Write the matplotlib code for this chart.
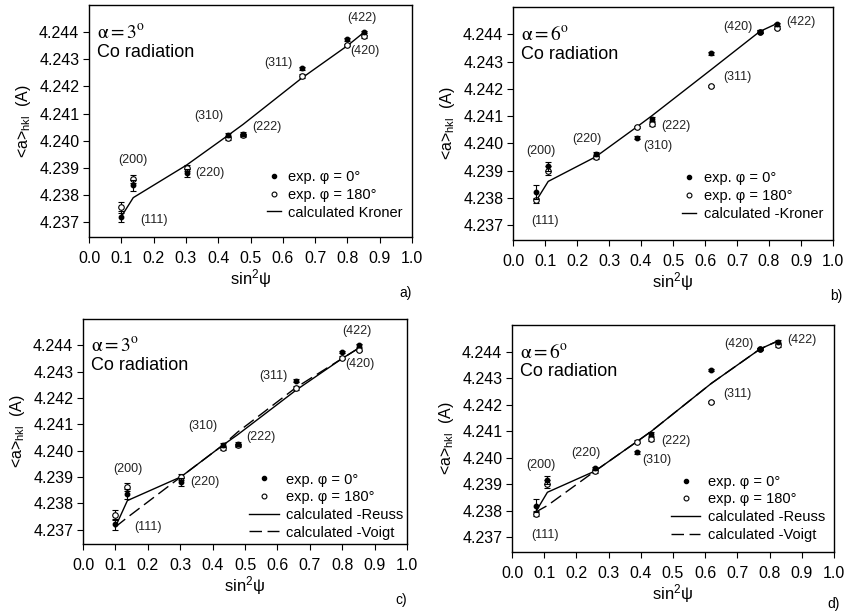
import matplotlib
matplotlib.use("Agg")
import matplotlib.pyplot as plt
from matplotlib.lines import Line2D

plt.rcParams['font.family'] = ['Liberation Sans', 'DejaVu Sans']
plt.rcParams['mathtext.fontset'] = 'custom'
plt.rcParams['mathtext.rm'] = 'Liberation Sans'
plt.rcParams['mathtext.it'] = 'Liberation Sans:italic'

# reflections
hkl = ['(111)', '(200)', '(220)', '(310)', '(222)', '(311)', '(420)', '(422)']

# alpha = 3 deg
s2psi_3 = [0.100, 0.137, 0.302, 0.431, 0.477, 0.658, 0.800, 0.852]
a0_3 = [4.2372, 4.23835, 4.2388, 4.2402, 4.24025, 4.24266, 4.24374, 4.2440]
a180_3 = [4.23755, 4.2386, 4.2390, 4.2401, 4.2402, 4.24238, 4.24353, 4.24384]
err0_3 = [0.0002, 0.0002, 0.00015, 0.00007, 0.00006, 0.00006, 0.00005, 0.00005]
err180_3 = [0.0002, 0.00015, 0.0001, 0.00007, 0.00006, 0.00006, 0.00005, 0.00005]
kroner_3 = [4.2372, 4.2379, 4.2391, 4.2402, 4.2406, 4.2423, 4.2435, 4.2440]
reuss_3 = [4.2371, 4.2381, 4.2390, 4.2402, 4.2406, 4.2423, 4.2435, 4.2439]
voigt_3 = [4.2371, 4.23746, 4.2390, 4.2402, 4.2407, 4.2424, 4.2435, 4.2439]

# alpha = 6 deg
s2psi_6 = [0.073, 0.110, 0.258, 0.387, 0.433, 0.619, 0.771, 0.826]
a0_6 = [4.2382, 4.23915, 4.2396, 4.2402, 4.2409, 4.2433, 4.2441, 4.24437]
a180_6 = [4.2379, 4.2390, 4.2395, 4.2406, 4.2407, 4.2421, 4.2441, 4.24424]
err0_6 = [0.00025, 0.00015, 0.00007, 0.00006, 0.00007, 0.00005, 0.00005, 0.00005]
err180_6 = [0.0001, 0.00015, 0.00007, 0.00005, 0.00007, 0.00005, 0.00005, 0.00005]
kroner_6 = [4.2379, 4.2386, 4.2395, 4.2406, 4.2410, 4.2427, 4.2441, 4.2444]
reuss_6 = [4.23795, 4.2387, 4.2395, 4.2406, 4.2410, 4.2428, 4.2441, 4.2444]
voigt_6 = [4.23795, 4.2382, 4.2395, 4.2406, 4.2410, 4.2428, 4.2441, 4.2444]

# label offsets (pixels) and alignment
offs_3 = [(19, -3, 'left'), (0, 25, 'center'), (9, 0, 'left'), (-5, 19, 'right'),
          (9, 7, 'left'), (-9, 5, 'right'), (3, -12, 'left'), (-2, 14, 'center')]
offs_6 = [(9, -29, 'center'), (-7, 15, 'center'), (-9, 15, 'center'), (6, -8, 'left'),
          (10, -7, 'left'), (12, -24, 'left'), (-7, 5, 'right'), (9, 2, 'left')]

W, H = 846, 614
fig = plt.figure(figsize=(W / 100, H / 100), dpi=100)


def ax_at(l, t, r, b):
    return fig.add_axes([l / W, 1 - b / H, (r - l) / W, (b - t) / H])


def panel(ax, x, y0, y180, e0, e180, offs, alpha, calcs, letter, lx, ly, leg_anchor, hlen):
    ax.set_xlim(0, 1.0)
    ax.set_ylim(4.23645, 4.2450)
    ax.set_xticks([i / 10 for i in range(11)])
    ax.set_xticklabels(['%.1f' % (i / 10) for i in range(11)])
    yt = [4.237 + i * 0.001 for i in range(8)]
    ax.set_yticks(yt)
    ax.set_yticklabels(['%.3f' % v for v in yt])
    ax.tick_params(direction='out', length=4, width=0.8, labelsize=11.5, pad=3)
    ax.tick_params(axis='x', pad=6)
    for sp in ax.spines.values():
        sp.set_linewidth(1.0)

    handles = [Line2D([], [], ls='none', marker='o', ms=3, mfc='k', mec='k'),
               Line2D([], [], ls='none', marker='o', ms=3.5, mfc='white', mec='k', mew=0.8)]
    labels = ['exp. φ = 0°', 'exp. φ = 180°']
    for name, yc, ls in calcs:
        ax.plot(x, yc, color='k', lw=1.0, ls=ls)
        handles.append(Line2D([], [], color='k', lw=1.0, ls=ls))
        labels.append(name)

    ax.errorbar(x, y180, yerr=e180, fmt='o', ms=4, mfc='white', mec='k', mew=0.8,
                ecolor='k', elinewidth=0.8, capsize=2, capthick=0.8, zorder=3)
    ax.errorbar(x, y0, yerr=e0, fmt='o', ms=3.2, mfc='k', mec='k',
                ecolor='k', elinewidth=0.8, capsize=2, capthick=0.8, zorder=4)

    for lab, xi, yi, (dx, dy, ha) in zip(hkl, x, y0, offs):
        ax.annotate(lab, (xi, yi), xytext=(dx, dy), textcoords='offset pixels',
                    ha=ha, va='center', fontsize=9, color='#222222')

    ax.text(0.025, 0.88, r'$\mathrm{\alpha} = %d^{\mathrm{o}}$' % alpha, transform=ax.transAxes,
            fontsize=14, math_fontfamily='stix', va='center')
    ax.text(0.025, 0.795, 'Co radiation', transform=ax.transAxes, fontsize=13, va='center')

    ax.legend(handles, labels, loc='lower right', bbox_to_anchor=leg_anchor,
              frameon=False, fontsize=10.5, handlelength=hlen, handletextpad=0.5,
              labelspacing=0.25, borderpad=0, borderaxespad=0)

    ax.set_ylabel(r'<a>$_{\mathrm{hkl}}$  (A)', fontsize=11.5, labelpad=4)
    ax.set_xlabel('sin$^{2}$ψ', fontsize=12, labelpad=1)
    fig.text(lx / W, 1 - ly / H, letter, fontsize=10, ha='center', va='center')


ax_a = ax_at(89, 5, 412, 237)
panel(ax_a, s2psi_3, a0_3, a180_3, err0_3, err180_3, offs_3, 3,
      [('calculated Kroner', kroner_3, '-')], 'a)', 406, 293, (0.972, 0.075), 1.0)

ax_b = ax_at(513, 7, 833, 240)
panel(ax_b, s2psi_6, a0_6, a180_6, err0_6, err180_6, offs_6, 6,
      [('calculated -Kroner', kroner_6, '-')], 'b)', 836, 296, (0.969, 0.083), 1.0)

ax_c = ax_at(83, 319, 407, 544)
panel(ax_c, s2psi_3, a0_3, a180_3, err0_3, err180_3, offs_3, 3,
      [('calculated -Reuss', reuss_3, '-'), ('calculated -Voigt', voigt_3, (0, (9, 4)))],
      'c)', 401, 600, (0.988, 0.02), 2.0)

ax_d = ax_at(512, 325, 834, 552)
panel(ax_d, s2psi_6, a0_6, a180_6, err0_6, err180_6, offs_6, 6,
      [('calculated -Reuss', reuss_6, '-'), ('calculated -Voigt', voigt_6, (0, (9, 4)))],
      'd)', 834, 604, (0.972, 0.045), 2.0)

fig.savefig('out.png', dpi=100)
